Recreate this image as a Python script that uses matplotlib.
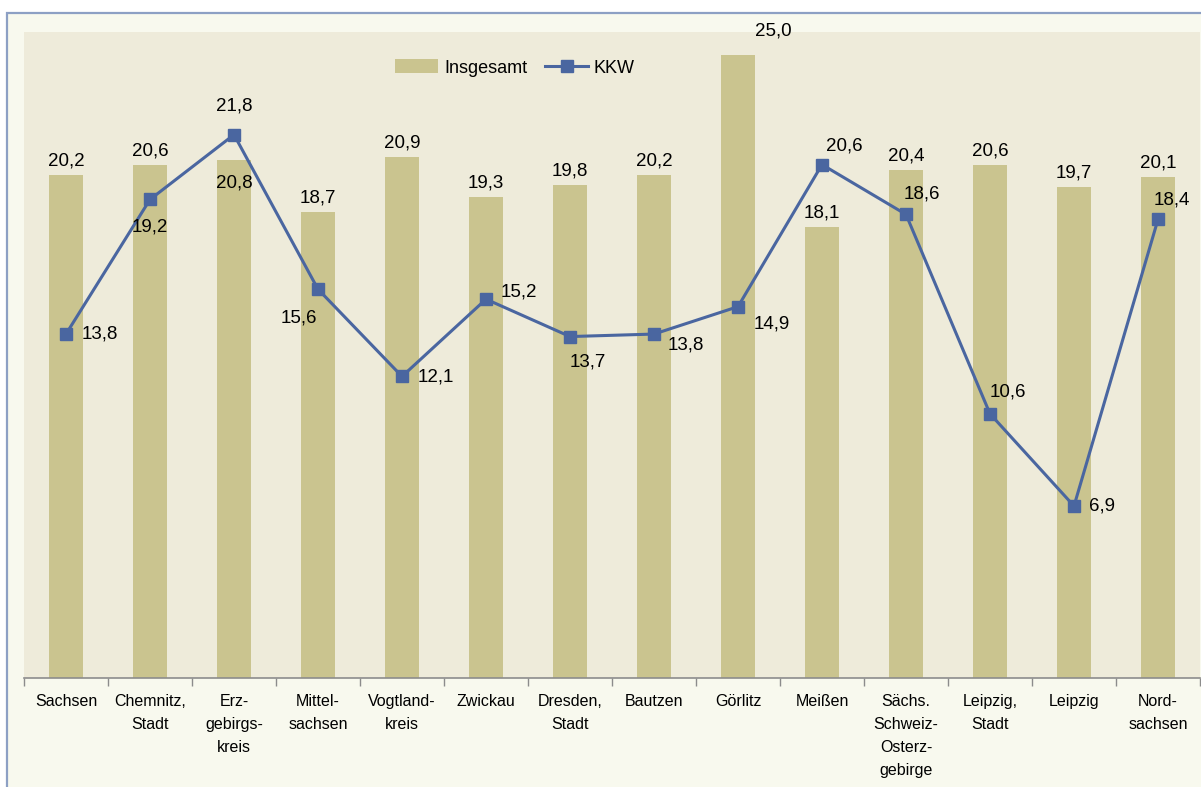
import matplotlib
matplotlib.use("Agg")
import matplotlib.pyplot as plt
from matplotlib.patches import Rectangle
import numpy as np

# data
kreise = ["Sachsen", "Chemnitz,\nStadt", "Erz-\ngebirgs-\nkreis", "Mittel-\nsachsen",
          "Vogtland-\nkreis", "Zwickau", "Dresden,\nStadt", "Bautzen", "Görlitz", "Meißen",
          "Sächs.\nSchweiz-\nOsterz-\ngebirge", "Leipzig,\nStadt", "Leipzig", "Nord-\nsachsen"]
insgesamt = [20.2, 20.6, 20.8, 18.7, 20.9, 19.3, 19.8, 20.2, 25.0, 18.1, 20.4, 20.6, 19.7, 20.1]
kkw = [13.8, 19.2, 21.8, 15.6, 12.1, 15.2, 13.7, 13.8, 14.9, 20.6, 18.6, 10.6, 6.9, 18.4]

# label offsets in pixels (dx, dy, ha)
bar_off = [(0, 14, 'center')] * len(insgesamt)
bar_off[2] = (0, -23, 'center')
bar_off[8] = (17, 24, 'left')
kkw_off = [(16, 0, 'left'), (0, -28, 'center'), (0, 29, 'center'), (-19, -29, 'center'),
           (16, -1, 'left'), (15, 7, 'left'), (18, -25, 'center'), (32, -11, 'center'),
           (34, -17, 'center'), (22, 19, 'center'), (16, 20, 'center'), (18, 22, 'center'),
           (15, 0, 'left'), (14, 19, 'center')]

bar_col = "#CAC48F"
line_col = "#4A66A0"
plot_bg = "#EEEBDA"
chart_bg = "#F8F9EE"

def fmt(v):
    return ("%.1f" % v).replace(".", ",")

plt.rcParams['font.family'] = ['Liberation Sans', 'DejaVu Sans']

fig = plt.figure(figsize=(12.01, 7.87), dpi=100)
fig.patch.set_facecolor("white")

# outer chart frame
fig.patches.append(Rectangle((7 / 1201, -0.02), 1.1, 1 - 13 / 787 + 0.02,
                             transform=fig.transFigure, facecolor=chart_bg,
                             edgecolor="#8DA0C4", linewidth=1.6, zorder=-10))

ax = fig.add_axes([24 / 1201, 1 - 678 / 787, 1176 / 1201, (678 - 32) / 787])
ax.set_facecolor(plot_bg)

x = np.arange(len(kreise))
bars = ax.bar(x, insgesamt, width=0.41, color=bar_col, label="Insgesamt", zorder=2)
line, = ax.plot(x, kkw, color=line_col, lw=2.2, marker="s", ms=9, label="KKW", zorder=3)

for i, v in enumerate(insgesamt):
    dx, dy, ha = bar_off[i]
    ax.annotate(fmt(v), (i, v), xytext=(dx, dy), textcoords="offset pixels",
                ha=ha, va="center", fontsize=13.5, zorder=4)

for i, v in enumerate(kkw):
    dx, dy, ha = kkw_off[i]
    ax.annotate(fmt(v), (i, v), xytext=(dx, dy), textcoords="offset pixels",
                ha=ha, va="center", fontsize=13.5, zorder=4)

ax.set_xlim(-0.5, len(kreise) - 0.5)
ax.set_ylim(0, 25.92)
ax.set_yticks([])
for s in ["top", "right", "left"]:
    ax.spines[s].set_visible(False)
ax.spines["bottom"].set_color("#8C8C8C")
ax.spines["bottom"].set_linewidth(1.2)

ax.set_xticks(x)
ax.set_xticklabels(kreise, fontsize=11.5, linespacing=1.66, va="top")
ax.tick_params(axis="x", which="major", length=0, pad=11.5)
ax.set_xticks(np.arange(-0.5, len(kreise), 1), minor=True)
ax.tick_params(axis="x", which="minor", length=6, color="#8C8C8C", width=1)

ax.legend([bars, line], ["Insgesamt", "KKW"], loc="center",
          bbox_to_anchor=(515 / 1201, 1 - 68 / 787),
          bbox_transform=fig.transFigure, ncol=2, frameon=False, fontsize=13,
          handlelength=2.4, handleheight=0.8, columnspacing=1.0, handletextpad=0.3)

fig.savefig("out.png", dpi=100)
